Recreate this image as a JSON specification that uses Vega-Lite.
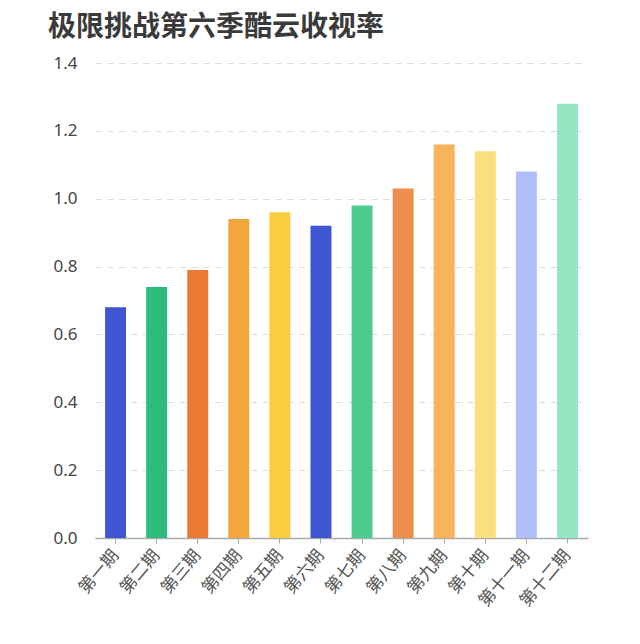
{
  "$schema": "https://vega.github.io/schema/vega-lite/v6.json",
  "description": "极限挑战第六季酷云收视率",
  "autosize": "none",
  "padding": {"left": 95, "top": 63, "right": 52, "bottom": 106},
  "width": 493,
  "height": 475,
  "background": "white",
  "title": {
    "text": "极限挑战第六季酷云收视率",
    "anchor": "start",
    "dx": -5,
    "offset": 12,
    "font": "Noto Sans CJK SC",
    "fontSize": 28,
    "fontWeight": "bold",
    "color": "#3a3a3a"
  },
  "data": {
    "values": [
      {"episode": "第一期", "rating": 0.68},
      {"episode": "第二期", "rating": 0.74},
      {"episode": "第三期", "rating": 0.79},
      {"episode": "第四期", "rating": 0.94},
      {"episode": "第五期", "rating": 0.96},
      {"episode": "第六期", "rating": 0.92},
      {"episode": "第七期", "rating": 0.98},
      {"episode": "第八期", "rating": 1.03},
      {"episode": "第九期", "rating": 1.16},
      {"episode": "第十期", "rating": 1.14},
      {"episode": "第十一期", "rating": 1.08},
      {"episode": "第十二期", "rating": 1.28}
    ]
  },
  "mark": {"type": "bar"},
  "encoding": {
    "x": {
      "field": "episode",
      "type": "nominal",
      "sort": null,
      "scale": {"paddingInner": 0.49, "paddingOuter": 0.245},
      "axis": {
        "title": null,
        "labelAngle": -50,
        "labelAlign": "right",
        "labelBaseline": "middle",
        "labelFont": "Noto Sans CJK SC",
        "labelFontSize": 17,
        "labelColor": "#555",
        "labelPadding": 9,
        "labelDx": 4,
        "domainColor": "#aaaaaa",
        "domainWidth": 1.5,
        "tickColor": "#aaaaaa",
        "tickSize": 5
      }
    },
    "y": {
      "field": "rating",
      "type": "quantitative",
      "scale": {"domain": [0, 1.4]},
      "axis": {
        "title": null,
        "values": [0, 0.2, 0.4, 0.6, 0.8, 1.0, 1.2, 1.4],
        "format": ".1f",
        "domain": false,
        "ticks": false,
        "labelFont": "Noto Sans",
        "labelFontSize": 17,
        "labelColor": "#444",
        "labelPadding": 18,
        "gridColor": "#dcdcdc",
        "gridDash": [6, 6],
        "gridWidth": 1
      }
    },
    "color": {
      "field": "episode",
      "type": "nominal",
      "legend": null,
      "scale": {
        "domain": ["第一期", "第二期", "第三期", "第四期", "第五期", "第六期", "第七期", "第八期", "第九期", "第十期", "第十一期", "第十二期"],
        "range": ["#3f56d3", "#2cbd7c", "#eb7a30", "#f2a63c", "#f8cd3e", "#3f56d3", "#4ccd8c", "#ef8d4f", "#f8b35b", "#fbdf7e", "#b0bef8", "#94e6c2"]
      }
    }
  },
  "config": {
    "view": {"stroke": null}
  }
}
